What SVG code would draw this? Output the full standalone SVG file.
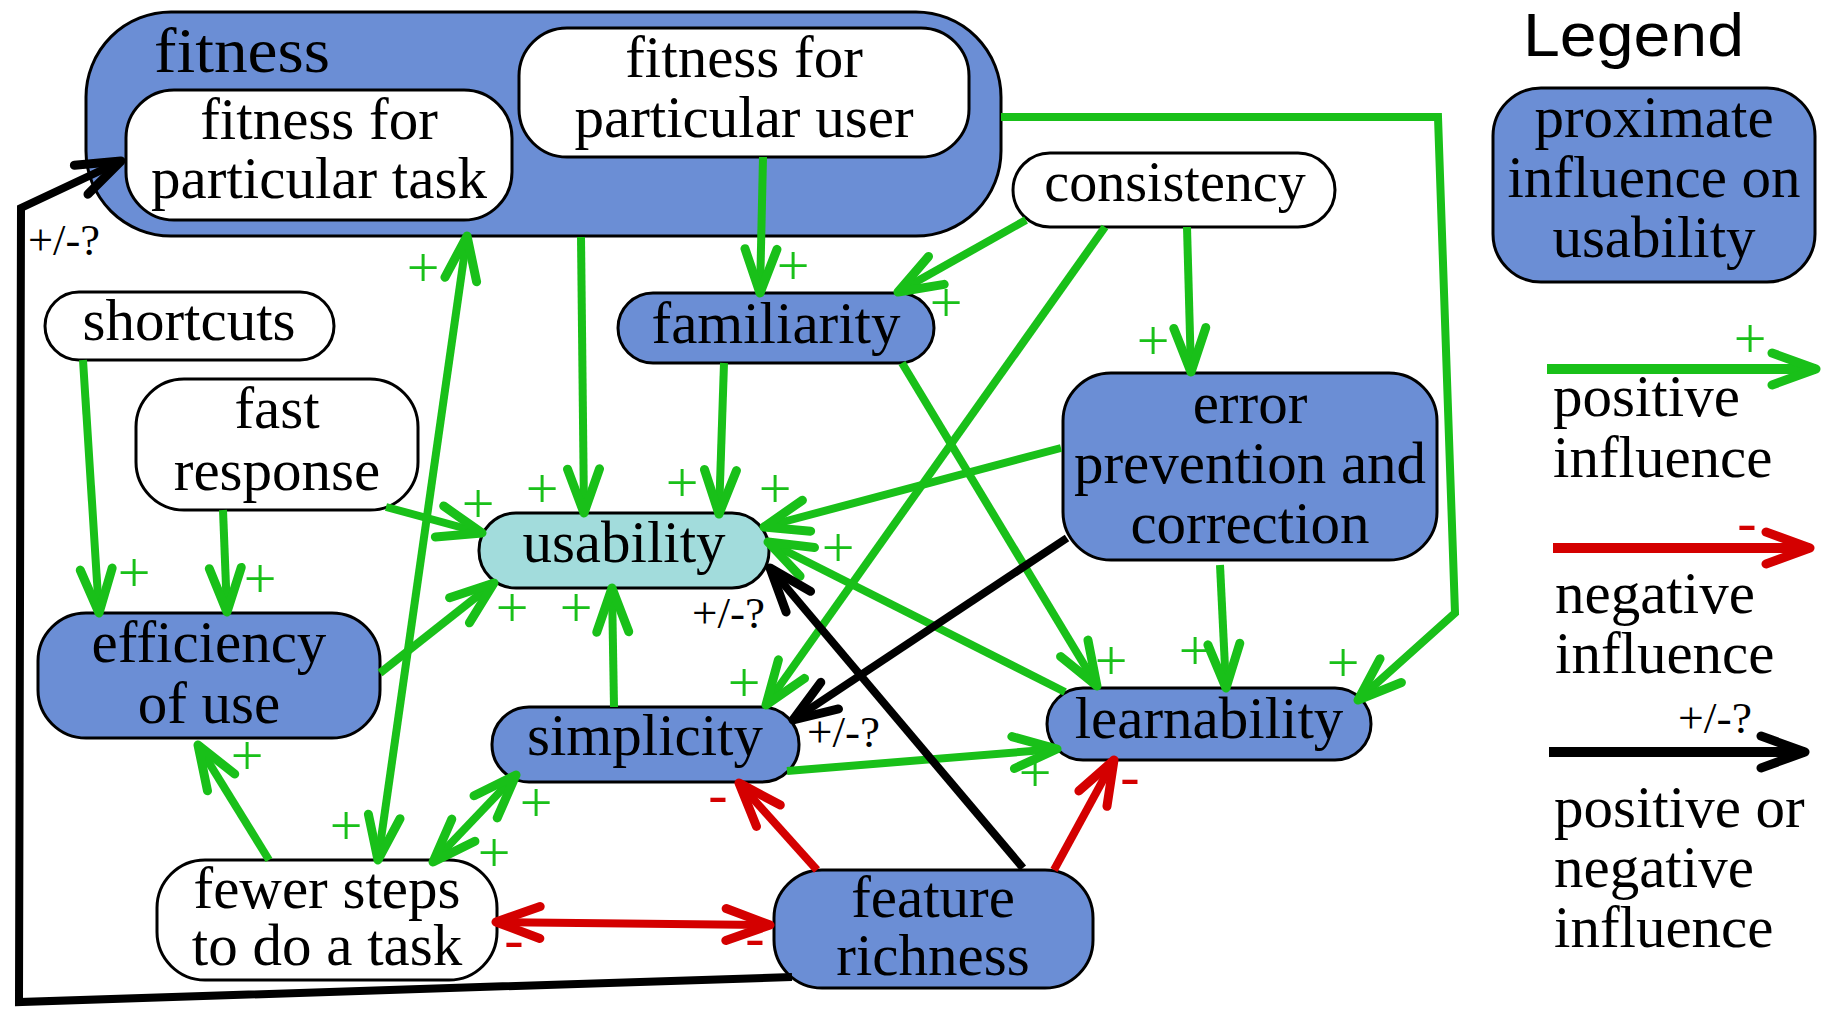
<svg xmlns="http://www.w3.org/2000/svg" width="1827" height="1010" viewBox="0 0 1827 1010">
<style>
.bg{fill:#ffffff}
.nb{fill:#6b8ed5;stroke:#000;stroke-width:3}
.nw{fill:#ffffff;stroke:#000;stroke-width:3}
.nt{fill:#a2dcdc;stroke:#000;stroke-width:3}
.t{font-family:"Liberation Serif","Times New Roman",serif;font-size:59px;text-anchor:middle;fill:#000}
.tl{font-family:"Liberation Serif","Times New Roman",serif;font-size:59px;fill:#000}
.g{fill:none;stroke:#19c019;stroke-width:8;marker-end:url(#ag)}
.r{fill:none;stroke:#d40000;stroke-width:8;marker-end:url(#ar)}
.k{fill:none;stroke:#000;stroke-width:8;marker-end:url(#ak)}
.both-g{marker-start:url(#ag)}
.both-r{marker-start:url(#ar)}
.p{font-family:"Liberation Serif","Times New Roman",serif;font-size:58px;text-anchor:middle;fill:#19c019}
.m{font-family:"Liberation Serif","Times New Roman",serif;font-size:58px;text-anchor:middle;fill:#d40000}
.q{font-family:"Liberation Serif","Times New Roman",serif;font-size:44px;fill:#000}
</style>
<defs>
<marker id="ag" markerUnits="userSpaceOnUse" viewBox="-50 -22 56 44" refX="0" refY="0" markerWidth="56" markerHeight="44" orient="auto-start-reverse" overflow="visible">
<path d="M-44,-16 L0,0 L-44,16" fill="none" stroke="#19c019" stroke-width="9" stroke-linejoin="round" stroke-linecap="round"/>
</marker>
<marker id="ar" markerUnits="userSpaceOnUse" viewBox="-50 -22 56 44" refX="0" refY="0" markerWidth="56" markerHeight="44" orient="auto-start-reverse" overflow="visible">
<path d="M-44,-16 L0,0 L-44,16" fill="none" stroke="#d40000" stroke-width="9" stroke-linejoin="round" stroke-linecap="round"/>
</marker>
<marker id="ak" markerUnits="userSpaceOnUse" viewBox="-50 -22 56 44" refX="0" refY="0" markerWidth="56" markerHeight="44" orient="auto-start-reverse" overflow="visible">
<path d="M-44,-16 L0,0 L-44,16" fill="none" stroke="#000" stroke-width="9" stroke-linejoin="round" stroke-linecap="round"/>
</marker>
</defs>
<rect class="bg" x="0" y="0" width="1827" height="1010"/>

<g id="fitness">
<rect class="nb" x="86" y="12" width="915" height="224" rx="85" ry="85"/>
<text class="tl" x="154" y="72" style="font-size:64px" textLength="176" lengthAdjust="spacingAndGlyphs">fitness</text>
</g>
<g id="fitness-task">
<rect class="nw" x="126" y="90" width="386" height="130" rx="48" ry="48"/>
<text class="t" x="319" y="139">fitness for</text>
<text class="t" x="319" y="198">particular task</text>
</g>
<g id="fitness-user">
<rect class="nw" x="519" y="28" width="450" height="129" rx="48" ry="48"/>
<text class="t" x="744" y="77">fitness for</text>
<text class="t" x="744" y="137">particular user</text>
</g>
<g id="consistency">
<rect class="nw" x="1013" y="153" width="322" height="74" rx="37" ry="37"/>
<text class="t" x="1175" y="201" style="font-size:56px">consistency</text>
</g>
<g id="familiarity">
<rect class="nb" x="618" y="293" width="316" height="70" rx="35" ry="35"/>
<text class="t" x="776" y="343">familiarity</text>
</g>
<g id="shortcuts">
<rect class="nw" x="45" y="292" width="289" height="68" rx="34" ry="34"/>
<text class="t" x="189" y="340">shortcuts</text>
</g>
<g id="fast-response">
<rect class="nw" x="136" y="379" width="282" height="131" rx="48" ry="48"/>
<text class="t" x="277" y="428">fast</text>
<text class="t" x="277" y="490">response</text>
</g>
<g id="usability">
<rect class="nt" x="479" y="513" width="290" height="75" rx="37" ry="37"/>
<text class="t" x="624" y="562">usability</text>
</g>
<g id="error-prevention">
<rect class="nb" x="1063" y="373" width="374" height="187" rx="48" ry="48"/>
<text class="t" x="1250" y="423">error</text>
<text class="t" x="1250" y="483">prevention and</text>
<text class="t" x="1250" y="543">correction</text>
</g>
<g id="efficiency">
<rect class="nb" x="38" y="613" width="342" height="125" rx="48" ry="48"/>
<text class="t" x="209" y="662">efficiency</text>
<text class="t" x="209" y="723">of use</text>
</g>
<g id="simplicity">
<rect class="nb" x="492" y="707" width="307" height="75" rx="37" ry="37"/>
<text class="t" x="645" y="755">simplicity</text>
</g>
<g id="learnability">
<rect class="nb" x="1047" y="688" width="324" height="72" rx="36" ry="36"/>
<text class="t" x="1209" y="738">learnability</text>
</g>
<g id="fewer-steps">
<rect class="nw" x="157" y="860" width="340" height="120" rx="48" ry="48"/>
<text class="t" x="327" y="908">fewer steps</text>
<text class="t" x="327" y="965">to do a task</text>
</g>
<g id="feature-richness">
<rect class="nb" x="774" y="870" width="319" height="118" rx="48" ry="48"/>
<text class="t" x="933" y="917">feature</text>
<text class="t" x="933" y="975">richness</text>
</g>

<g id="connectors">
<path class="g" d="M83,360 L99,613"/>
<path class="g" d="M223,510 L227,612"/>
<path class="g" d="M386,507 L482,533"/>
<path class="g" d="M380,673 L494,583"/>
<path class="g" d="M581,237 L584,513"/>
<path class="g both-g" d="M378,860 L467,236"/>
<path class="g" d="M763,157 L760,293"/>
<path class="g" d="M1026,220 L898,292"/>
<path class="g" d="M1187,227 L1191,372"/>
<path class="g" d="M1105,227 L766,705"/>
<path class="g" d="M724,363 L719,514"/>
<path class="g" d="M902,363 L1097,686"/>
<path class="g" d="M1061,448 L764,527"/>
<path class="g" d="M1220,565 L1226,688"/>
<path class="g" d="M1065,692 L768,542"/>
<path class="g" d="M614,707 L612,588"/>
<path class="g" d="M787,771 L1057,749"/>
<path class="g both-g" d="M433,862 L516,775"/>
<path class="g" d="M269,860 L198,745"/>
<path class="g" d="M1001,117 L1438,117 L1455,613 L1358,700"/>
<path class="r both-r" d="M496,922 L770,925"/>
<path class="r" d="M817,870 L739,783"/>
<path class="r" d="M1054,870 L1114,760"/>
<path class="k" d="M1023,868 L770,568"/>
<path class="k" d="M1067,538 L793,720"/>
<path class="k" d="M792,977 L19,1002 L21,208 L121,161" stroke-linejoin="miter"/>
</g>

<g id="edge-labels">
<text class="p" x="423" y="287">+</text>
<text class="p" x="346" y="845">+</text>
<text class="p" x="793" y="285">+</text>
<text class="p" x="946" y="322">+</text>
<text class="p" x="1153" y="360">+</text>
<text class="p" x="542" y="508">+</text>
<text class="p" x="478" y="523">+</text>
<text class="p" x="682" y="502">+</text>
<text class="p" x="775" y="508">+</text>
<text class="p" x="838" y="567">+</text>
<text class="p" x="134" y="592">+</text>
<text class="p" x="260" y="598">+</text>
<text class="p" x="512" y="627">+</text>
<text class="p" x="576" y="627">+</text>
<text class="p" x="744" y="702">+</text>
<text class="p" x="1111" y="680">+</text>
<text class="p" x="1195" y="670">+</text>
<text class="p" x="1343" y="682">+</text>
<text class="p" x="247" y="775">+</text>
<text class="p" x="536" y="822">+</text>
<text class="p" x="494" y="872">+</text>
<text class="p" x="1035" y="792">+</text>
<text class="m" x="718" y="813">-</text>
<text class="m" x="1130" y="795">-</text>
<text class="m" x="514" y="958">-</text>
<text class="m" x="755" y="956">-</text>
<text class="q" x="28" y="255" textLength="72" lengthAdjust="spacingAndGlyphs">+/-?</text>
<text class="q" x="692" y="628" textLength="73" lengthAdjust="spacingAndGlyphs">+/-?</text>
<text class="q" x="807" y="747" textLength="73" lengthAdjust="spacingAndGlyphs">+/-?</text>
</g>

<g id="legend">
<text x="1523" y="56" font-family="Liberation Sans, Arial, sans-serif" font-size="61" textLength="221" lengthAdjust="spacingAndGlyphs" fill="#000">Legend</text>
<g id="legend-proximate">
<rect class="nb" x="1493" y="88" width="322" height="194" rx="48" ry="48"/>
<text class="t" x="1654" y="137">proximate</text>
<text class="t" x="1654" y="197">influence on</text>
<text class="t" x="1654" y="257">usability</text>
</g>
<path d="M1547,369 L1816,369" fill="none" stroke="#19c019" stroke-width="10" marker-end="url(#ag)"/>
<text class="p" x="1750" y="358">+</text>
<text class="tl" x="1553" y="416">positive</text>
<text class="tl" x="1553" y="477">influence</text>
<path d="M1553,548 L1810,548" fill="none" stroke="#d40000" stroke-width="10" marker-end="url(#ar)"/>
<text class="m" x="1747" y="541">-</text>
<text class="tl" x="1555" y="613">negative</text>
<text class="tl" x="1555" y="673">influence</text>
<path d="M1549,752 L1805,752" fill="none" stroke="#000" stroke-width="10" marker-end="url(#ak)"/>
<text class="q" x="1678" y="733" textLength="74" lengthAdjust="spacingAndGlyphs">+/-?</text>
<text class="tl" x="1554" y="827">positive or</text>
<text class="tl" x="1554" y="887">negative</text>
<text class="tl" x="1554" y="947">influence</text>
</g>
</svg>
